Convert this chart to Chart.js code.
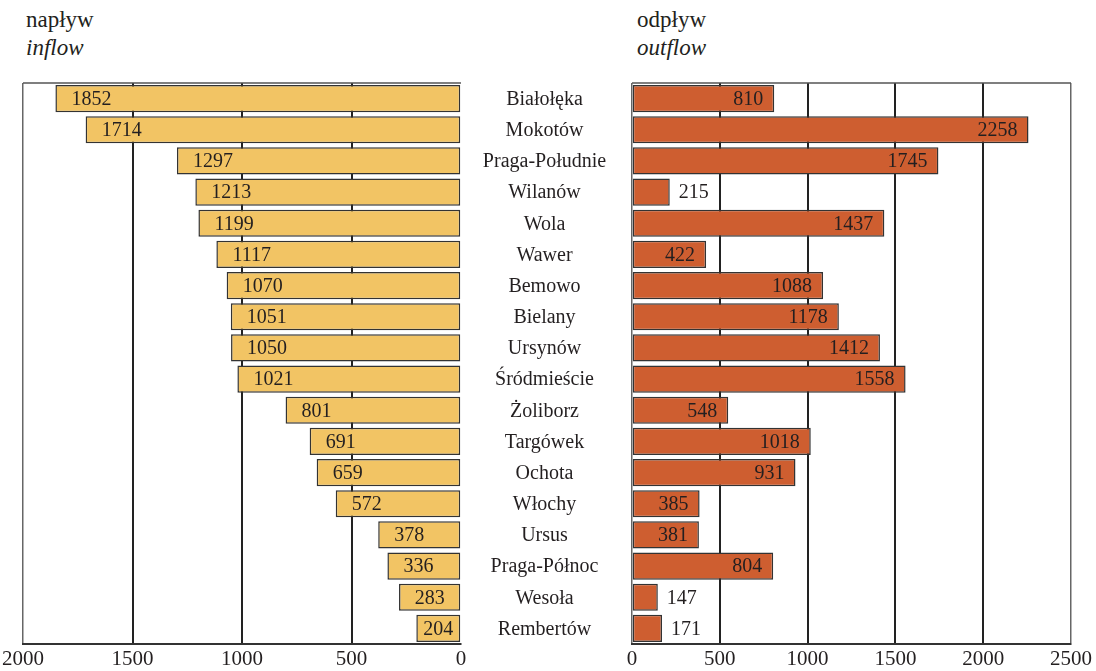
<!DOCTYPE html>
<html>
<head>
<meta charset="utf-8">
<script src="https://cdn.jsdelivr.net/npm/chart.js@4"></script>
<style>
body { margin: 0; background: #fff; width: 1096px; height: 671px; position: relative; overflow: hidden; font-family: "Liberation Serif", serif; color: #231f20; }
.t { position: absolute; font-size: 23px; line-height: 23px; white-space: nowrap; }
.i { font-style: italic; }
#c1 { position: absolute; left: 0; top: 0; }
#c2 { position: absolute; left: 461px; top: 0; }
</style>
</head>
<body>
<div class="t" style="left:26px;top:8px">napływ</div>
<div class="t i" style="left:26px;top:36px">inflow</div>
<div class="t" style="left:637px;top:8px">odpływ</div>
<div class="t i" style="left:637px;top:36px">outflow</div>
<canvas id="c1" width="480" height="671"></canvas>
<canvas id="c2" width="635" height="671"></canvas>
<script>
// dzielnice
const districts = ['Białołęka', 'Mokotów', 'Praga-Południe', 'Wilanów', 'Wola', 'Wawer', 'Bemowo', 'Bielany', 'Ursynów',
    'Śródmieście', 'Żoliborz', 'Targówek', 'Ochota', 'Włochy', 'Ursus', 'Praga-Północ', 'Wesoła', 'Rembertów'];
const inflow = [1852, 1714, 1297, 1213, 1199, 1117, 1070, 1051, 1050, 1021, 801, 691, 659, 572, 378, 336, 283, 204];
const outflow = [810, 2258, 1745, 215, 1437, 422, 1088, 1178, 1412, 1558, 548, 1018, 931, 385, 381, 804, 147, 171];
const inflowMax = 2000;
const outflowMax = 2500;
const tickStep = 500;

const ink = '#231f20';
const serif = '"Liberation Serif", serif';

// gorna linia ramki
const frame = {
    id: 'frame',
    beforeDatasetsDraw(chart) {
        const a = chart.chartArea, ctx = chart.ctx;
        ctx.save();
        ctx.strokeStyle = '#555';
        ctx.lineWidth = 1.5;
        ctx.beginPath();
        ctx.moveTo(a.left, a.top);
        ctx.lineTo(a.right, a.top);
        ctx.stroke();
        ctx.restore();
    }
};

// etykiety wartosci na slupkach
const valueLabels = {
    id: 'valueLabels',
    afterDatasetsDraw(chart, args, opts) {
        const ctx = chart.ctx;
        const vals = chart.data.datasets[0].data;
        ctx.save();
        ctx.font = '20px ' + serif;
        ctx.fillStyle = ink;
        ctx.textBaseline = 'middle';
        chart.getDatasetMeta(0).data.forEach((bar, i) => {
            const txt = String(vals[i]);
            const w = ctx.measureText(txt).width;
            const left = Math.min(bar.x, bar.base), right = Math.max(bar.x, bar.base);
            if (opts.side === 'start') {
                ctx.textAlign = 'left';
                ctx.fillText(txt, left + Math.min(16, (right - left - w) / 2), bar.y + 1);
            } else if (right - left > w + 24) {
                ctx.textAlign = 'right';
                ctx.fillText(txt, right - 11, bar.y + 1);
            } else {
                ctx.textAlign = 'left';
                ctx.fillText(txt, right + 9, bar.y + 1);
            }
        });
        ctx.restore();
    }
};

// nazwy dzielnic pomiedzy wykresami
const districtLabels = {
    id: 'districtLabels',
    afterDraw(chart) {
        const ctx = chart.ctx, y = chart.scales.y;
        ctx.save();
        ctx.font = '20px ' + serif;
        ctx.fillStyle = ink;
        ctx.textAlign = 'center';
        ctx.textBaseline = 'middle';
        districts.forEach((d, i) => {
            ctx.fillText(d, chart.chartArea.left - 87.5, y.getPixelForValue(i) + 1);
        });
        ctx.restore();
    }
};

function gridColor(max) {
    return c => (c.tick.value === 0 || c.tick.value === max) ? '#666' : '#222';
}

function options(max, reverse, pad, side, edgeHidden) {
    return {
        indexAxis: 'y',
        responsive: false,
        animation: false,
        layout: { padding: pad },
        plugins: {
            legend: { display: false },
            tooltip: { enabled: false },
            valueLabels: { side: side }
        },
        scales: {
            x: {
                min: 0,
                max: max,
                reverse: reverse,
                afterFit(scale) {
                    scale.height = 27;
                    scale.paddingLeft = 0;
                    scale.paddingRight = 0;
                },
                grid: {
                    drawTicks: false,
                    color: c => (edgeHidden && c.tick.value === 0) ? 'rgba(0,0,0,0)' : gridColor(max)(c),
                    lineWidth: c => (c.tick.value === 0 || c.tick.value === max) ? 1.5 : 2
                },
                border: { color: '#333', width: 2 },
                ticks: {
                    stepSize: tickStep,
                    padding: 4,
                    color: ink,
                    font: { family: serif, size: 21, lineHeight: 1.1 },
                    callback: v => String(v)
                }
            },
            y: {
                display: false,
                offset: true
            }
        }
    };
}

new Chart(document.getElementById('c1'), {
    type: 'bar',
    data: {
        labels: districts,
        datasets: [{
            data: inflow,
            backgroundColor: '#F2C464',
            borderColor: '#333',
            borderWidth: 1.5,
            borderSkipped: false,
            barPercentage: 0.87,
            categoryPercentage: 1
        }]
    },
    options: options(inflowMax, true, { left: 23, right: 19, top: 83, bottom: 0 }, 'start', true),
    plugins: [frame, valueLabels]
});

new Chart(document.getElementById('c2'), {
    type: 'bar',
    data: {
        labels: districts,
        datasets: [{
            data: outflow,
            backgroundColor: '#CE5E30',
            borderColor: '#333',
            borderWidth: 1.5,
            borderSkipped: false,
            barPercentage: 0.87,
            categoryPercentage: 1
        }]
    },
    options: options(outflowMax, false, { left: 171, right: 25, top: 83, bottom: 0 }, 'end', false),
    plugins: [frame, valueLabels, districtLabels]
});
</script>
</body>
</html>
